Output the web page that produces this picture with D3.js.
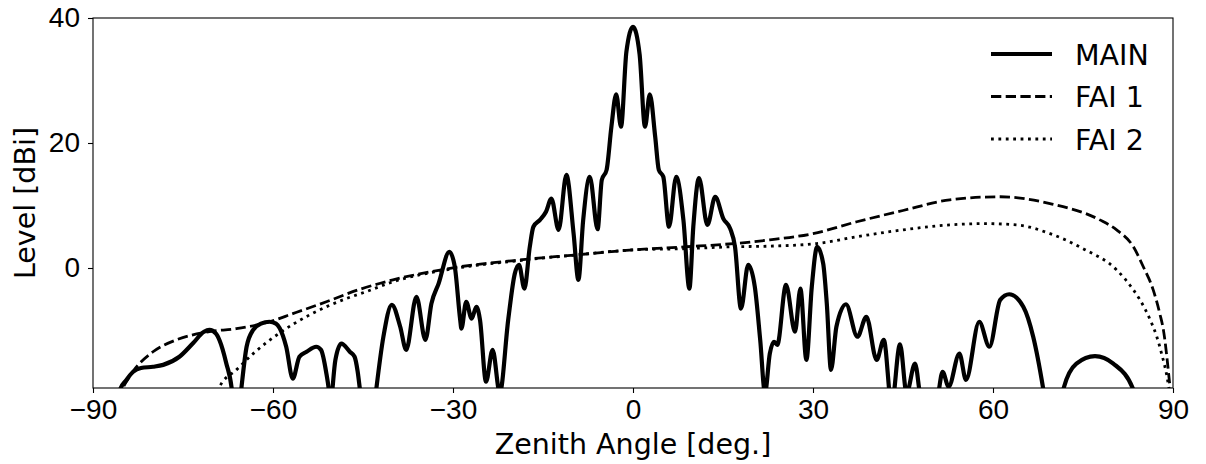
<!DOCTYPE html>
<html>
<head>
<meta charset="utf-8">
<script src="https://cdn.jsdelivr.net/npm/d3@7"></script>
<style>
  body { margin: 0; background: #fff; }
  svg { display: block; font-family: "DejaVu Sans", sans-serif; }
  .axis path, .axis line { stroke: #000; stroke-width: 1.1; }
  .axis text { font-size: 28px; fill: #000; }
  .label { font-size: 28.5px; fill: #000; }
</style>
</head>
<body>
<script>
// MAIN antenna pattern (zenith angle in deg, level in dBi)
const mainAngle = [-90, -86.5, -85.5, -84.5, -83.3, -82, -80, -78.3, -75.6, -73.3, -71.5, -70.6, -69.5, -68.9, -67.8, -66.8,
  -66.2, -65.3, -64.4, -63.3, -62, -60.6, -59.5, -58.9, -57.8, -56.7, -55.6, -54.4, -52.8, -52, -51.1, -50.7,
  -50.4, -50.1, -49.6, -48.6, -47.2, -46.4, -45.9, -45.5, -44, -42.8, -41.6, -40.2, -38.8, -37.8, -36.1, -34.6,
  -33.6, -32.4, -30.6, -29.7, -28.8, -28.6, -27.8, -26.9, -26.1, -25.5, -24.5, -23.4, -22.2, -20.8, -19.7, -19.0,
  -18.1, -17.2, -16.6, -15.5, -14.5, -13.6, -12.4, -11.1, -9.9, -9.1, -8.3, -7.2, -5.9, -5.2, -4.4, -3.6,
  -2.8, -2.0, -1.1, 0, 1.1, 2.0, 2.8, 3.7, 4.3, 5.05, 6.0, 7.2, 8.4, 9.4, 10.05, 11.0,
  12.4, 13.7, 15.05, 16.2, 17.0, 18.0, 19.2, 20.3, 21.2, 22.0, 22.8, 23.5, 24.05, 25.5, 27.0, 27.9,
  28.9, 29.8, 30.7, 31.7, 32.3, 33.0, 33.9, 35.5, 37.4, 38.9, 40.6, 41.8, 43.1, 44.5, 45.6, 47.0,
  47.8, 49.4, 50.9, 51.6, 52.6, 54.4, 55.5, 57.7, 59.4, 61.2, 62.7, 65.05, 66.7, 68.4, 70, 71.7,
  73.9, 77.0, 80.05, 83.4, 86, 90];
const mainLevel = [-35, -24, -19.5, -18, -16.6, -16.0, -15.8, -15.5, -14.2, -12.0, -10.2, -9.9, -10.5, -11.6, -15.2, -20,
  -28, -19.5, -12.6, -9.9, -8.9, -8.6, -8.9, -9.6, -12.6, -17.7, -14.2, -13.4, -12.6, -13.1, -16.9, -19.5,
  -23, -19.5, -14.7, -12.1, -13.4, -14.2, -16.5, -19.5, -30, -19.5, -11.0, -5.9, -9.4, -13.1, -4.6, -11.5,
  -5.7, -2.5, 2.6, 0.2, -8.3, -9.7, -5.4, -8.1, -6.2, -8.3, -18.2, -13.1, -20, -8.3, -0.9, 0.5,
  -3.3, 3.4, 6.6, 7.7, 9.0, 11.1, 6.1, 14.9, 5.5, -1.9, 7.7, 14.6, 6.2, 14.1, 15.7, 22.6,
  27.8, 22.6, 34.6, 38.6, 34.2, 22.6, 27.8, 21, 15.7, 14.6, 6.6, 14.6, 7.7, -3.3, 6.6, 14.4,
  6.9, 11.4, 7.9, 6.3, 3.4, -6.5, 0.5, -3.0, -11.5, -20, -13.7, -11.8, -12.3, -2.7, -10.2, -3.3,
  -14.7, -3.0, 3.4, 0.7, -5.7, -16.3, -9.4, -5.8, -11.0, -7.8, -14.7, -11.5, -22, -12.2, -20, -15.3,
  -20, -28, -20, -16.6, -19.0, -13.7, -17.9, -8.6, -12.6, -5.1, -4.2, -6.2, -11.0, -19.5, -30, -19.5,
  -15.3, -14.1, -15.3, -19.5, -30, -40];

// FAI 1
const fai1Angle = [-86, -84.5, -83.3, -80, -76.1, -70.8, -66.1, -60.6, -56.7, -51.1, -45.5, -40, -30.5, -18.8, -9.4, 0,
  8.9, 16.7, 22.8, 30, 37.3, 45, 52.8, 61.2, 69.5, 77.8, 80.6, 83.4, 85.05, 86.7, 87.8, 88.4, 89.4, 89.8];
const fai1Level = [-21, -18.3, -16.5, -13.4, -11.5, -10.2, -9.7, -8.6, -7.3, -5.4, -3.4, -1.9, -0.05, 1.3, 2.1, 2.9,
  3.4, 3.9, 4.5, 5.5, 7.4, 9.2, 10.9, 11.4, 10.3, 7.7, 6.1, 3.4, 0.2, -3.5, -7.3, -9.9, -18.1, -22];

// FAI 2
const fai2Angle = [-69.5, -68.9, -66.1, -63.3, -58.9, -53.9, -47.8, -44.5, -40, -30.5, -18.8, -9.4, 0, 8.9, 16.7, 22.8,
  30.6, 37.3, 45, 52.8, 58.4, 63.9, 69.5, 75, 80.6, 83.4, 84.5, 86.2, 87.3, 88.1, 89, 89.6];
const fai2Level = [-21, -19.0, -16.3, -13.7, -10.4, -7.5, -4.9, -3.8, -2.2, -0.2, 1.2, 2.1, 2.9, 3.1, 3.4, 3.5,
  3.9, 5.0, 6.1, 6.9, 7.1, 6.9, 5.5, 3.1, -0.3, -3.5, -5.1, -8.3, -11, -13.7, -17.4, -21];

const xTicks = [-90, -60, -30, 0, 30, 60, 90];
const yTicks = [0, 20, 40];
const seriesNames = ["MAIN", "FAI 1", "FAI 2"];

const margin = { top: 18, right: 33, bottom: 76, left: 93 },
    width = 1206 - margin.left - margin.right,
    height = 464 - margin.top - margin.bottom;

const x = d3.scaleLinear().domain([-90, 90]).range([0, width]),
    y = d3.scaleLinear().domain([-19.2, 40]).range([height, 0]);

const svg = d3.select('body').append('svg')
    .attr('width', 1206)
    .attr('height', 464)
    .append('g')
    .attr('transform', 'translate(' + margin.left + ',' + margin.top + ')');

svg.append('clipPath').attr('id', 'clip')
    .append('rect').attr('width', width).attr('height', height);

const line = d3.line()
    .curve(d3.curveMonotoneX)
    .x(d => x(d[0]))
    .y(d => y(d[1]));

const series = [
    { pts: d3.zip(mainAngle, mainLevel), w: 4.2, dash: null },
    { pts: d3.zip(fai1Angle, fai1Level), w: 2.8, dash: '10.3,4.4' },
    { pts: d3.zip(fai2Angle, fai2Level), w: 2.8, dash: '2.8,4.6' }
];

const plot = svg.append('g').attr('clip-path', 'url(#clip)');
series.forEach(s => {
    plot.append('path')
        .datum(s.pts)
        .attr('fill', 'none')
        .attr('stroke', '#000')
        .attr('stroke-width', s.w)
        .attr('stroke-dasharray', s.dash)
        .attr('d', line);
});

// axes
svg.append('g')
    .attr('class', 'axis')
    .attr('transform', 'translate(0,' + height + ')')
    .call(d3.axisBottom(x).tickValues(xTicks).tickSize(5).tickPadding(6)
        .tickFormat(d => d < 0 ? '\u2212' + Math.abs(d) : d))
    .call(g => g.select('.domain').remove());

svg.append('g')
    .attr('class', 'axis')
    .call(d3.axisLeft(y).tickValues(yTicks).tickSize(5).tickPadding(8))
    .call(g => g.select('.domain').remove());

svg.append('rect')
    .attr('width', width).attr('height', height)
    .attr('fill', 'none').attr('stroke', '#000').attr('stroke-width', 1.1);

svg.append('text')
    .attr('class', 'label')
    .attr('x', width / 2).attr('y', 436)
    .attr('text-anchor', 'middle')
    .text('Zenith Angle [deg.]');

svg.append('text')
    .attr('class', 'label')
    .attr('transform', 'translate(' + (35 - margin.left) + ',' + (height / 2) + ') rotate(-90)')
    .attr('text-anchor', 'middle')
    .text('Level [dBi]');

// legend
const legend = svg.append('g').attr('transform', 'translate(' + (991 - margin.left) + ',' + (54 - margin.top) + ')');
seriesNames.forEach((name, i) => {
    const row = legend.append('g').attr('transform', 'translate(0,' + (i * 42.5) + ')');
    row.append('line')
        .attr('x1', 0).attr('x2', 61)
        .attr('stroke', '#000')
        .attr('stroke-width', series[i].w)
        .attr('stroke-dasharray', series[i].dash);
    row.append('text')
        .attr('class', 'label')
        .attr('x', 84).attr('y', 1)
        .attr('dominant-baseline', 'central')
        .text(name);
});
</script>
</body>
</html>
